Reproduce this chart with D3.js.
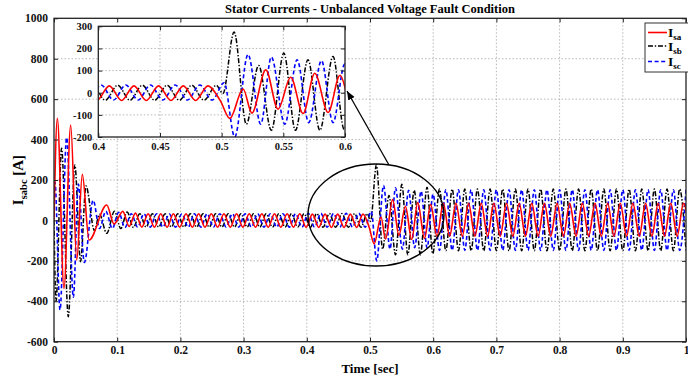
<!DOCTYPE html>
<html><head><meta charset="utf-8">
<script src="https://cdn.jsdelivr.net/npm/d3@7"></script>
<style>
body{margin:0;background:#fff;}
svg{display:block;font-family:"Liberation Serif","Times New Roman",serif;font-weight:bold;}
</style></head><body>
<svg id="chart" width="688" height="377"></svg>
<script>
// ---- data: extrema of each stator current, [time in ms, current in A] ----
const isa = [[0,0],[5.3,505],[15.8,-336],[26.4,472],[36,-196],[44.8,228],[55.5,-97],[83.4,76],[95,-18],[108.9,45],[118.9,-30],[128.9,36],[138.9,-33],
[148.9,33],[158.9,-34],[168.9,33],[178.9,-34],[188.9,33],[198.9,-34],[208.9,33],[218.9,-34],[228.9,33],[238.9,-34],[248.9,33],[258.9,-34],[268.9,33],[278.9,-34],[288.9,33],[298.9,-34],[308.9,33],[318.9,-34],[328.9,33],[338.9,-34],[348.9,33],[358.9,-34],[368.9,33],[378.9,-34],[388.9,33],[398.9,-34],
[408.9,31],[418.9,-35],[428.9,31],[438.9,-35],[448.9,31],[458.9,-35],[468.9,31],[478.9,-35],[488.9,31],[498.9,-36],
[506.6,-116],[517.4,17],[524.5,-92],[535.8,103],[545.7,-74],[556,70],[566,-94],[575.5,88],[586.3,-89],[596,79],
[606,-78],[616,85],[626,-78],[636,85],[646,-78],[656,85],[666,-78],[676,85],[686,-78],[696,85],[706,-78],[716,85],[726,-78],[736,85],[746,-78],[756,85],[766,-78],[776,85],[786,-78],[796,85],[806,-78],[816,85],[826,-78],[836,85],[846,-78],[856,85],[866,-78],[876,85],[886,-78],[896,85],[906,-78],[916,85],[926,-78],[936,85],[946,-78],[956,85],[966,-78],[976,85],[986,-78],[996,85],[1006,-78]];

const isb = [[0,0],[3.2,-400],[12,357],[22.6,-476],[33,274],[42,-204],[50.6,170],[64,-50],[72,30],[83.4,-64],[95.7,45],[105.7,-40],[115.7,42],[125.7,-35],
[135.7,33],[145.7,-33],[155.7,33],[165.7,-33],[175.7,33],[185.7,-33],[195.7,33],[205.7,-33],[215.7,33],[225.7,-33],[235.7,33],[245.7,-33],[255.7,33],[265.7,-33],[275.7,33],[285.7,-33],[295.7,33],[305.7,-33],[315.7,33],[325.7,-33],[335.7,33],[345.7,-33],[355.7,33],[365.7,-33],[375.7,33],[385.7,-33],[395.7,33],
[405.7,-34],[415.7,34],[425.7,-34],[435.7,34],[445.7,-34],[455.7,34],[465.7,-34],[475.7,34],[485.7,-34],[495.7,34],
[501,-4],[510.1,274],[520,-142],[530,123],[540.3,-170],[550.4,179],[559.8,-170],[570,149],[579.6,-170],[590.3,164],[599.3,-165],
[610,155],[620,-150],[630,155],[640,-150],[650,155],[660,-150],[670,155],[680,-150],[690,155],[700,-150],[710,155],[720,-150],[730,155],[740,-150],[750,155],[760,-150],[770,155],[780,-150],[790,155],[800,-150],[810,155],[820,-150],[830,155],[840,-150],[850,155],[860,-150],[870,155],[880,-150],[890,155],[900,-150],[910,155],[920,-150],[930,155],[940,-150],[950,155],[960,-150],[970,155],[980,-150],[990,155],[1000,-150]];

const isc = [[0,150],[1.5,190],[9.5,-443],[20,410],[30.6,-380],[38.5,180],[48,-208],[62,100],[72,-40],[82,45],[92.3,-40],[102.3,40],[112.3,-35],
[122.3,33],[132.3,-33],[142.3,33],[152.3,-33],[162.3,33],[172.3,-33],[182.3,33],[192.3,-33],[202.3,33],[212.3,-33],[222.3,33],[232.3,-33],[242.3,33],[252.3,-33],[262.3,33],[272.3,-33],[282.3,33],[292.3,-33],[302.3,33],[312.3,-33],[322.3,33],[332.3,-33],[342.3,33],[352.3,-33],[362.3,33],[372.3,-33],[382.3,33],[392.3,-33],
[402.3,35],[412.3,-33],[422.3,35],[432.3,-33],[442.3,35],[452.3,-33],[462.3,35],[472.3,-33],[482.3,35],[492.3,-33],
[502,45],[510.6,-200],[521.4,173],[531.7,-142],[540.3,161],[551.2,-142],[561.2,149],[570.6,-135],[580.9,145],[590.3,-135],[599.8,130],
[610,-148],[620,152],[630,-148],[640,152],[650,-148],[660,152],[670,-148],[680,152],[690,-148],[700,152],[710,-148],[720,152],[730,-148],[740,152],[750,-148],[760,152],[770,-148],[780,152],[790,-148],[800,152],[810,-148],[820,152],[830,-148],[840,152],[850,-148],[860,152],[870,-148],[880,152],[890,-148],[900,152],[910,-148],[920,152],[930,-148],[940,152],[950,-148],[960,152],[970,-148],[980,152],[990,-148],[1000,152]];

const xTicks = [0,0.1,0.2,0.3,0.4,0.5,0.6,0.7,0.8,0.9,1];
const xTickLabels = ["0","0.1","0.2","0.3","0.4","0.5","0.6","0.7","0.8","0.9","1"];
const yTicks = [-600,-400,-200,0,200,400,600,800,1000];
const insetXTicks = [0.4,0.45,0.5,0.55,0.6];
const insetXTickLabels = ["0.4","0.45","0.5","0.55","0.6"];
const insetYTicks = [-200,-100,0,100,200,300];
const seriesNames = ["sa","sb","sc"];
const titleText = "Stator Currents - Unbalanced Voltage Fault Condition";
const xLabelText = "Time [sec]";

// ---- drawing ----
const svg = d3.select("#chart");
const toPts = arr => arr.map(d => ({t: d[0] / 1000, v: d[1]}));
const series = [
  {name: "sa", pts: toPts(isa), color: "#ff0000", dash: null, w: 1.6},
  {name: "sb", pts: toPts(isb), color: "#000000", dash: "5,1.8,1.4,1.8", w: 1.5},
  {name: "sc", pts: toPts(isc), color: "#0000ff", dash: "4,2.6", w: 1.6}
];
const drawOrder = [1, 2, 0];

function panel(g, id, x, y, xt, xtl, yt, ytl, fs, domainT, xpad) {
  const [x0, x1] = x.range(), [y0, y1] = y.range();
  g.append("rect").attr("x", x0).attr("y", y1).attr("width", x1 - x0).attr("height", y0 - y1).attr("fill", "#fff");
  const grid = g.append("g").attr("stroke", "#9a9a9a").attr("stroke-width", 0.7).attr("stroke-dasharray", "1.5,2");
  xt.forEach(t => { if (t > x.domain()[0] && t < x.domain()[1]) grid.append("line").attr("x1", x(t)).attr("x2", x(t)).attr("y1", y0).attr("y2", y1); });
  yt.forEach(t => { if (t > y.domain()[0] && t < y.domain()[1]) grid.append("line").attr("y1", y(t)).attr("y2", y(t)).attr("x1", x0).attr("x2", x1); });
  svg.append("defs").append("clipPath").attr("id", id).append("rect")
    .attr("x", x0).attr("y", y1).attr("width", x1 - x0).attr("height", y0 - y1);
  const line = d3.line().x(d => x(d.t)).y(d => y(d.v)).curve(d3.curveMonotoneX);
  const lg = g.append("g").attr("clip-path", `url(#${id})`);
  drawOrder.forEach(i => {
    const s = series[i];
    const pts = s.pts.filter(d => d.t >= domainT[0] && d.t <= domainT[1]);
    lg.append("path").attr("d", line(pts)).attr("fill", "none").attr("stroke", s.color)
      .attr("stroke-width", s.w).attr("stroke-dasharray", s.dash).attr("stroke-linejoin", "round");
  });
  const ax = g.append("g");
  const bottomAx = d3.axisBottom(x).tickValues(xt).tickFormat((d, i) => xtl[i]).tickSizeInner(-4).tickSizeOuter(0).tickPadding(xpad);
  const topAx = d3.axisTop(x).tickValues(xt).tickFormat("").tickSizeInner(-4).tickSizeOuter(0);
  const leftAx = d3.axisLeft(y).tickValues(yt).tickFormat((d, i) => ytl[i]).tickSizeInner(-4).tickSizeOuter(0).tickPadding(6);
  const rightAx = d3.axisRight(y).tickValues(yt).tickFormat("").tickSizeInner(-4).tickSizeOuter(0);
  [[bottomAx, `translate(0,${y0})`], [topAx, `translate(0,${y1})`], [leftAx, `translate(${x0},0)`], [rightAx, `translate(${x1},0)`]].forEach(([a, tr]) => {
    const gg = ax.append("g").attr("transform", tr).call(a);
    gg.selectAll("text").attr("font-family", "Liberation Serif, Times New Roman, serif").attr("font-weight", "bold").attr("font-size", fs).attr("fill", "#111");
    gg.selectAll("line").attr("stroke", "#222");
    gg.select(".domain").remove();
  });
  g.append("rect").attr("x", x0).attr("y", y1).attr("width", x1 - x0).attr("height", y0 - y1)
    .attr("fill", "none").attr("stroke", "#222").attr("stroke-width", 1.3);
}

// main axes
const x = d3.scaleLinear().domain([0, 1]).range([54, 686]);
const y = d3.scaleLinear().domain([-600, 1000]).range([341.7, 18.3]);
const mainG = svg.append("g");
panel(mainG, "clipMain", x, y, xTicks, xTickLabels, yTicks, yTicks.map(String), 11.5, [0, 1.01], 4.5);

// ellipse + arrow
const ann = svg.append("g");
ann.append("ellipse").attr("cx", 376).attr("cy", 215).attr("rx", 68).attr("ry", 51)
  .attr("fill", "none").attr("stroke", "#000").attr("stroke-width", 1.4);
svg.append("defs").append("marker").attr("id", "arr").attr("viewBox", "0 0 10 10").attr("refX", 10).attr("refY", 5)
  .attr("markerWidth", 9).attr("markerHeight", 9).attr("orient", "auto-start-reverse").attr("markerUnits", "userSpaceOnUse")
  .append("path").attr("d", "M0,1 L10,5 L0,9 z").attr("fill", "#000");
ann.append("line").attr("x1", 389).attr("y1", 165).attr("x2", 347).attr("y2", 91)
  .attr("stroke", "#000").attr("stroke-width", 1.3).attr("marker-end", "url(#arr)");

// inset
const xi = d3.scaleLinear().domain([0.4, 0.6]).range([98.3, 345]);
const yi = d3.scaleLinear().domain([-200, 300]).range([137, 26.3]);
const insetG = svg.append("g");
panel(insetG, "clipInset", xi, yi, insetXTicks, insetXTickLabels, insetYTicks, insetYTicks.map(String), 10.5, [0.38, 0.62], 6);

// title and labels
svg.append("text").attr("x", 370).attr("y", 13).attr("text-anchor", "middle").attr("font-size", 12.5).text(titleText);
svg.append("text").attr("x", 370).attr("y", 372.5).attr("text-anchor", "middle").attr("font-size", 13).text(xLabelText);
const yl = svg.append("text").attr("transform", "translate(23,180) rotate(-90)").attr("text-anchor", "middle").attr("font-size", 15);
yl.append("tspan").text("I");
yl.append("tspan").attr("font-size", 10.5).attr("dy", 4).text("sabc");
yl.append("tspan").attr("dy", -4).text(" [A]");

// legend
const leg = svg.append("g");
leg.append("rect").attr("x", 645).attr("y", 23).attr("width", 60).attr("height", 49).attr("fill", "#fff").attr("stroke", "#333").attr("stroke-width", 1);
const legY = [32.5, 46, 61.5];
series.forEach((s, i) => {
  leg.append("line").attr("x1", 648).attr("x2", 667).attr("y1", legY[i]).attr("y2", legY[i])
    .attr("stroke", s.color).attr("stroke-width", s.w).attr("stroke-dasharray", s.dash);
  const t = leg.append("text").attr("x", 668).attr("y", legY[i] + 4.5).attr("font-size", 13.5);
  t.append("tspan").text("I");
  t.append("tspan").attr("font-size", 9).attr("dy", 3).text(seriesNames[i]);
});
</script>
</body></html>
